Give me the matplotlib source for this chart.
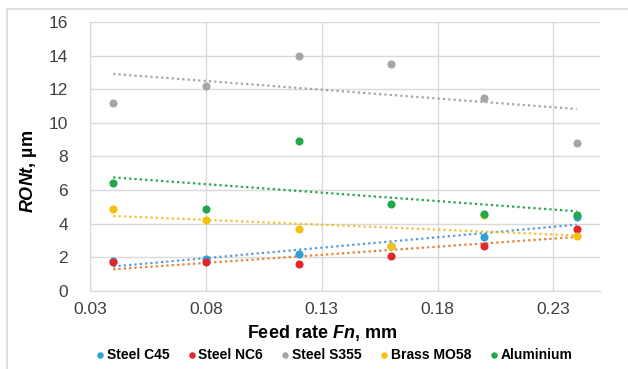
import numpy as np
import matplotlib
matplotlib.use('Agg')
from matplotlib import pyplot as plt
from matplotlib.patches import Rectangle

plt.rcParams['font.family'] = ['Liberation Sans', 'DejaVu Sans']
plt.rcParams['mathtext.fontset'] = 'custom'
plt.rcParams['mathtext.bfit'] = 'Liberation Sans:italic:bold'
plt.rcParams['mathtext.it'] = 'Liberation Sans:italic'

# feed rate values (mm)
feed = [0.04, 0.08, 0.12, 0.16, 0.20, 0.24]

steel_c45 = [1.8, 1.9, 2.2, 2.7, 3.2, 4.4]
steel_nc6 = [1.7, 1.7, 1.6, 2.1, 2.7, 3.7]
steel_s355 = [11.2, 12.2, 14.0, 13.5, 11.5, 8.8]
brass_mo58 = [4.9, 4.2, 3.7, 2.7, 4.5, 3.3]
aluminium = [6.4, 4.9, 8.9, 5.2, 4.6, 4.5]

names = ['Steel C45', 'Steel NC6', 'Steel S355', 'Brass MO58', 'Aluminium']
series = [steel_c45, steel_nc6, steel_s355, brass_mo58, aluminium]
colors = ['#2E9FD9', '#E3262B', '#A5A5A5', '#F5BF0F', '#1FA84C']
trend_colors = ['#5B9BD5', '#ED7D31', '#A5A5A5', '#F2C12E', '#1FA84C']

xticks = [0.03, 0.08, 0.13, 0.18, 0.23]
yticks = [0, 2, 4, 6, 8, 10, 12, 14, 16]

fig = plt.figure(figsize=(6.28, 3.69), dpi=100)
ax = fig.add_axes([0.1433, 0.2114, 0.8117, 0.729])

x = np.array(feed)
for name, ys, c, tc in zip(names, series, colors, trend_colors):
    k, b = np.polyfit(x, ys, 1)
    ax.plot([x[0], x[-1]], [k * x[0] + b, k * x[-1] + b], color=tc,
            linestyle=(0, (1, 1.4)), linewidth=1.6, zorder=4)
for name, ys, c in zip(names, series, colors):
    ax.scatter(feed, ys, s=34, color=c, label=name, zorder=5, linewidths=0)

ax.set_xlim(0.03, 0.25)
ax.set_ylim(0, 16)
ax.set_xticks(xticks)
ax.set_xticklabels([f'{t:.2f}' for t in xticks])
ax.set_yticks(yticks)
ax.grid(True, color='#D9D9D9', linewidth=1)
ax.set_axisbelow(True)
for s in ['top', 'right']:
    ax.spines[s].set_visible(False)
for s in ['left', 'bottom']:
    ax.spines[s].set_color('#D9D9D9')
ax.tick_params(axis='both', length=0, labelsize=12.5, colors='#404040')
ax.tick_params(axis='y', pad=16)
ax.tick_params(axis='x', pad=8)

ax.set_xlabel(r'Feed rate $\mathbfit{Fn}$, mm', fontsize=13, fontweight='bold')
ax.set_ylabel(r'$\mathbfit{RONt}$, µm', fontsize=13, fontweight='bold')
ax.xaxis.set_label_coords((322 - 90) / 510, -(333 - 291) / 269)
ax.yaxis.set_label_coords(-(90 - 28) / 510, (291 - 171) / 269)
ax.xaxis.label.set_va('center')
ax.yaxis.label.set_va('center')

fig.legend(loc='center', bbox_to_anchor=(0.532, 0.038), ncol=5, frameon=False,
           handlelength=0.6, handletextpad=0.2, columnspacing=1.3,
           prop={'weight': 'bold', 'size': 10}, markerscale=0.8)

fig.patches.append(Rectangle((7 / 628, -0.1), 1.2, 1.1 - 9 / 369, transform=fig.transFigure,
                             fill=False, edgecolor='#D9D9D9', linewidth=1.2))

fig.savefig('out.png', dpi=100)
